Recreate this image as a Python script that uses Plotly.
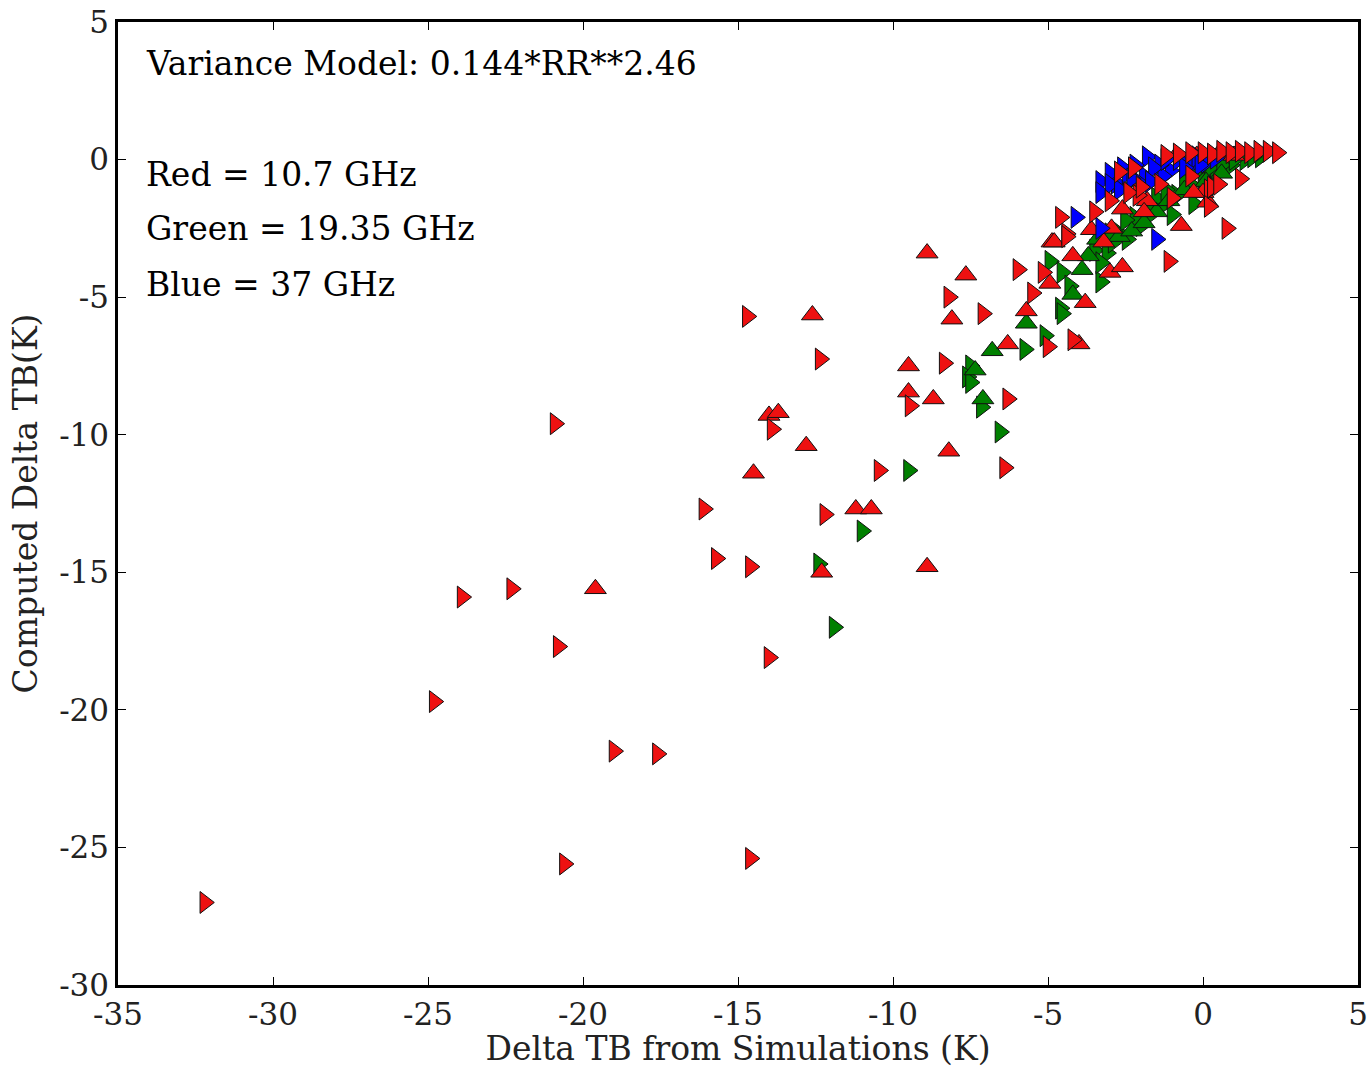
import plotly.graph_objects as go

# ---------------- data ----------------
red_right_x = [-32.2, -24.8, -23.9, -22.3, -20.9, -20.8, -20.6, -19.0, -17.6, -16.1, -15.7, -14.7,
               -14.6, -14.6, -14.0, -13.9, -12.35, -12.2, -10.45, -9.45, -8.35, -8.2, -7.1, -6.3,
               -6.4, -5.97, -5.5, -5.16, -5.0, -4.2, -4.4, -4.6, -4.4, -3.5, -1.1, -2.7, -2.25,
               -2.1, -1.4, 0.2, 0.2, 0.77, 1.2, 0.3,
               -2.4, -1.0, -0.4, 0.5, -3.0, -2.0,
               -1.2, -0.8, -0.4, 0.0, 0.3, 0.6, 0.9, 1.2, 1.5, 1.8, 2.1, 2.4]
red_right_y = [-27.0, -19.7, -15.9, -15.6, -9.6, -17.7, -25.6, -21.5, -21.6, -12.7, -14.5, -5.7,
               -14.8, -25.4, -18.1, -9.8, -7.25, -12.9, -11.3, -8.95, -7.4, -5.0, -5.6, -8.7,
               -11.2, -4.0, -4.85, -4.1, -6.8, -6.55, -2.7, -2.1, -2.8, -1.9, -3.7, -0.45, -0.3,
               -1.3, -0.9, -1.1, -1.7, -2.5, -0.7, -1.0,
               -1.2, -1.4, -0.6, -0.9, -1.5, -1.0,
               0.15, 0.2, 0.25, 0.25, 0.2, 0.3, 0.25, 0.3, 0.25, 0.3, 0.3, 0.25]

red_up_x = [-19.6, -14.5, -14.0, -13.7, -12.8, -12.6, -12.3, -11.2, -10.7, -9.5, -9.5, -8.9,
            -8.9, -8.7, -8.2, -8.1, -7.65, -6.3, -5.7, -4.94, -4.87, -4.2, -4.0, -3.8, -3.2,
            -3.0, -2.6, -3.6, -2.95, -2.6, -4.8, -0.7, 0.16, 0.0, -1.8, -2.2,
            -1.9, -0.3, -0.9, -0.2, 0.5, 1.0]
red_up_y = [-15.6, -11.4, -9.3, -9.2, -10.4, -5.65, -15.0, -12.7, -12.7, -7.5, -8.45, -3.4,
            -14.8, -8.7, -10.6, -5.8, -4.2, -6.7, -5.5, -4.5, -3.0, -3.5, -6.7, -5.2, -3.0,
            -4.1, -3.9, -2.55, -2.5, -1.8, -3.0, -2.4, -1.55, -1.2, -1.5, -0.8,
            -1.9, -1.2, 0.1, 0.15, 0.2, 0.15]

green_right_x = [-12.4, -11.9, -11.0, -9.5, -7.5, -7.6, -7.5, -7.15, -6.55, -5.75, -5.1, -4.94,
                 -4.55, -4.3, -4.6, -4.55, -3.3, -3.5, -3.1, -3.3, -2.9,
                 -2.45, -2.0, -1.7, -1.3, -0.85, -0.4, 0.0, 0.4, 0.9, 1.35, 1.85, -2.2, -1.5,
                 -0.6, 0.2, -1.0, -0.3, -2.8,
                 -1.8, -1.2, -0.2, 0.6, 1.0, 1.6, -2.5, -3.0]
green_right_y = [-14.7, -17.0, -13.5, -11.3, -7.5, -7.9, -8.1, -9.0, -9.9, -6.9, -6.4, -3.7,
                 -4.1, -4.6, -5.4, -5.6, -4.45, -3.3, -3.4, -3.75, -3.0,
                 -2.9, -2.4, -2.0, -1.65, -1.3, -0.9, -0.65, -0.4, -0.2, 0.0, 0.1, -2.1, -1.4,
                 -0.7, -0.3, -2.0, -1.6, -2.6,
                 -1.7, -1.1, -0.4, -0.2, 0.0, 0.1, -2.2, -2.7]

green_up_x = [-7.35, -7.1, -6.8, -5.7, -4.2, -3.7, -2.7, -2.3, -1.9, -1.5, -1.1, -0.6, 0.1, 0.6,
              -3.9, -3.4]
green_up_y = [-7.65, -8.7, -6.95, -5.95, -4.9, -3.5, -2.8, -2.6, -2.3, -1.9, -1.5, -1.1, -0.8, -0.5,
              -4.0, -2.9]

blue_right_x = [-4.1, -3.3, -1.5, -3.3, -3.3, -2.8, -2.45, -1.9, -1.8, -1.06, -0.4, 0.1, -1.4,
                -0.8, -2.2, -3.0, -0.2, 0.4, -1.3, -2.0,
                -3.0, -2.6, -2.3, -1.6, -1.2, -0.6, -0.1, -2.7, -1.7]
blue_right_y = [-2.1, -2.5, -2.9, -0.8, -1.2, -0.85, -0.5, -0.6, 0.1, -0.4, -0.2, -0.1, -0.2,
                0.0, -0.2, -0.5, 0.1, 0.05, -0.6, -0.9,
                -0.9, -0.3, -0.7, -0.3, 0.0, -0.3, -0.2, -1.1, -0.8]

x_tick_vals = [-35, -30, -25, -20, -15, -10, -5, 0, 5]
x_tick_text = ["-35", "-30", "-25", "-20", "-15", "-10", "-5", "0", "5"]
y_tick_vals = [5, 0, -5, -10, -15, -20, -25, -30]
y_tick_text = ["5", "0", "-5", "-10", "-15", "-20", "-25", "-30"]

annotation_lines = ["Variance Model: 0.144*RR**2.46", "Red = 10.7 GHz",
                    "Green = 19.35 GHz", "Blue = 37 GHz"]
annotation_y = [3.5, -0.55, -2.5, -4.55]

# ---------------- figure ----------------
FONT = "DejaVu Serif"
RED, GREEN, BLUE = "#ee1111", "#008000", "#0000ff"
MSIZE = 19
outline = dict(color="#111111", width=1)
TXT = 33

fig = go.Figure()
series = [
    (green_right_x, green_right_y, GREEN, "triangle-right"),
    (green_up_x, green_up_y, GREEN, "triangle-up"),
    (red_up_x, red_up_y, RED, "triangle-up"),
    (blue_right_x, blue_right_y, BLUE, "triangle-right"),
    (red_right_x, red_right_y, RED, "triangle-right"),
]
for xs, ys, col, sym in series:
    fig.add_trace(go.Scatter(x=xs, y=ys, mode="markers",
                             marker=dict(symbol=sym, size=MSIZE, color=col, line=outline),
                             showlegend=False, hoverinfo="skip"))

for txt, yy in zip(annotation_lines, annotation_y):
    fig.add_annotation(x=-34.17, y=yy, xref="x", yref="y", text=txt, showarrow=False,
                       xanchor="left", yanchor="middle",
                       font=dict(family=FONT, size=TXT, color="black"))

axis_common = dict(showline=True, linecolor="black", linewidth=2.5, mirror="ticks",
                   ticks="inside", ticklen=8, tickwidth=1, tickcolor="black",
                   showgrid=False, zeroline=False, automargin=False,
                   tickfont=dict(family=FONT, size=31, color="#222222"))

fig.update_xaxes(range=[-35, 5], tickvals=x_tick_vals, ticktext=x_tick_text,
                 title=dict(text="Delta TB from Simulations (K)",
                            font=dict(family=FONT, size=TXT, color="#222222"), standoff=10),
                 **axis_common)
fig.update_yaxes(range=[-30, 5], tickvals=y_tick_vals, ticktext=y_tick_text,
                 title=dict(text="Computed Delta TB(K)",
                            font=dict(family=FONT, size=TXT, color="#222222"), standoff=12),
                 **axis_common)

fig.update_layout(width=1371, height=1068,
                  margin=dict(l=118, r=13, t=22, b=83),
                  plot_bgcolor="white", paper_bgcolor="white")

fig.write_html("out.html", config={"displayModeBar": False},
               post_script="document.body.style.margin='0';document.body.style.overflow='hidden';")
